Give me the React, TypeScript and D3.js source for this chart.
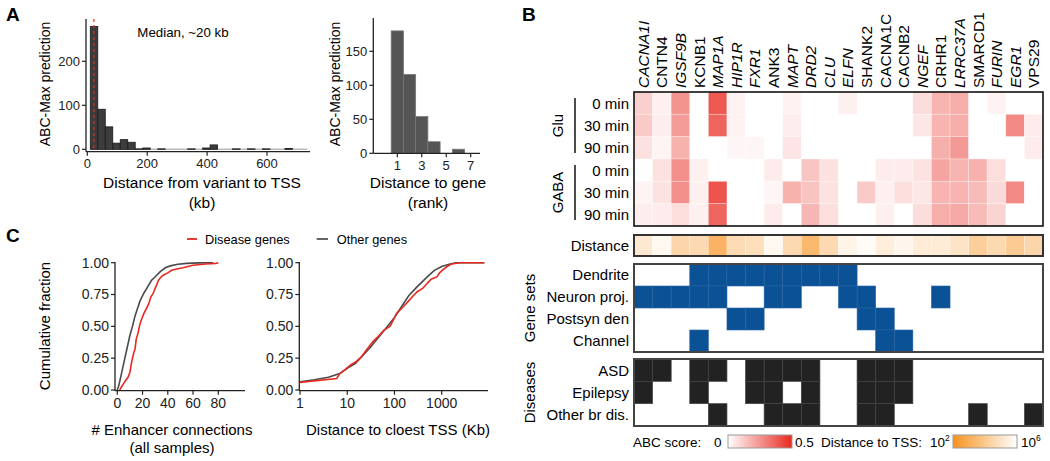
import React from "react";
import * as d3 from "d3";

const FONT = '"Liberation Sans", Arial, Helvetica, sans-serif';

// ---------- Panel A (left): distance from variant to TSS ----------
const tssBinStarts = [10, 35, 60, 85, 110, 135, 160, 185, 210, 235, 260, 285, 310, 335, 360, 385, 410, 435, 460, 485, 510, 535, 560, 585, 610, 635, 660, 685, 710];
const tssBinCounts = [279, 91, 51, 14, 22, 16, 1, 3, 0, 1, 0, 0, 0, 1, 0, 3, 10, 0, 0, 1, 0, 1, 0, 1, 0, 0, 2, 0, 0];
const tssBinWidth = 25;
const tssMedianKb = 22;
const tssXTicks = [0, 200, 400, 600];
const tssYTicks = [0, 100, 200];

// ---------- Panel A (right): distance to gene rank ----------
const rankValues = [1, 2, 3, 4, 5, 6];
const rankCounts = [180, 116, 54, 17, 0, 6];
const rankXTicks = [1, 3, 5, 7];
const rankYTicks = [0, 50, 100, 150];

// ---------- Panel C ----------
const enhDisease: [number, number][] = [[2, 0], [3, 0.02], [5, 0.05], [7, 0.08], [8.5, 0.1], [10, 0.14], [11, 0.2], [12, 0.25], [13, 0.29], [14, 0.32], [15, 0.4], [16.5, 0.45], [17.5, 0.5], [19, 0.55], [21, 0.6], [23, 0.64], [25, 0.68], [26.5, 0.73], [28.5, 0.76], [30, 0.8], [31, 0.82], [32.5, 0.86], [34, 0.88], [36, 0.9], [40, 0.92], [43, 0.94], [47, 0.95], [52, 0.96], [56, 0.97], [60, 0.98], [70, 0.99], [78, 0.995], [80, 1.0]];
const enhOther: [number, number][] = [[0, 0], [1, 0.03], [2, 0.07], [4, 0.16], [6, 0.25], [8, 0.34], [10, 0.43], [12, 0.5], [14, 0.58], [16, 0.64], [18, 0.7], [21, 0.76], [24, 0.81], [27, 0.86], [30, 0.89], [34, 0.93], [38, 0.96], [42, 0.975], [48, 0.988], [55, 0.995], [65, 0.999], [76, 1.0]];
const tssDisease: [number, number][] = [[1, 0.06], [6, 0.09], [7, 0.13], [9, 0.16], [12, 0.2], [15, 0.22], [20, 0.26], [25, 0.31], [35, 0.38], [45, 0.42], [60, 0.47], [80, 0.5], [95, 0.55], [110, 0.6], [150, 0.65], [200, 0.7], [250, 0.74], [300, 0.77], [400, 0.8], [500, 0.84], [600, 0.87], [800, 0.89], [900, 0.92], [1100, 0.95], [1300, 0.97], [1600, 0.99], [2500, 1.0], [8000, 1.0]];
const tssOther: [number, number][] = [[1, 0.065], [2, 0.08], [4, 0.1], [7, 0.13], [10, 0.17], [15, 0.21], [20, 0.26], [30, 0.33], [50, 0.43], [75, 0.51], [100, 0.57], [150, 0.67], [200, 0.74], [300, 0.81], [500, 0.89], [700, 0.94], [1000, 0.97], [1500, 0.99], [2000, 1.0], [8000, 1.0]];
const cdfYTicks = [0, 0.25, 0.5, 0.75, 1];
const enhXTicks = [0, 20, 40, 60, 80];
const tssLogTicks = [1, 10, 100, 1000];

// ---------- Panel B ----------
const genes = ["CACNA1I", "CNTN4", "IGSF9B", "KCNB1", "MAP1A", "HIP1R", "FXR1", "ANK3", "MAPT", "DRD2", "CLU", "ELFN", "SHANK2", "CACNA1C", "CACNB2", "NGEF", "CRHR1", "LRRC37A", "SMARCD1", "FURIN", "EGR1", "VPS29"];
const italicGenes = ["CACNA1I", "IGSF9B", "MAP1A", "HIP1R", "FXR1", "MAPT", "DRD2", "CLU", "ELFN", "NGEF", "LRRC37A", "FURIN", "EGR1"];
const timePoints = ["0 min", "30 min", "90 min"];
const treatments = ["Glu", "GABA"];
const abcGlu0 = [0.11, 0.035, 0.25, 0, 0.39, 0.03, 0, 0, 0.03, 0, 0, 0.035, 0, 0, 0, 0.08, 0.175, 0.19, 0, 0.03, 0, 0];
const abcGlu30 = [0.125, 0.04, 0.23, 0, 0.36, 0.03, 0, 0, 0.04, 0, 0, 0, 0, 0, 0, 0.055, 0.175, 0.19, 0, 0, 0.275, 0.045];
const abcGlu90 = [0.07, 0.025, 0.18, 0, 0, 0.02, 0.02, 0, 0.06, 0, 0, 0, 0, 0, 0, 0, 0.185, 0.235, 0, 0, 0, 0.045];
const abcGaba0 = [0, 0.07, 0.26, 0.035, 0, 0, 0, 0.045, 0, 0.135, 0.07, 0, 0, 0.045, 0.045, 0.065, 0.21, 0.175, 0.18, 0.075, 0, 0];
const abcGaba30 = [0.025, 0.065, 0.26, 0.035, 0.4, 0, 0, 0.02, 0.18, 0.14, 0.065, 0, 0.125, 0.035, 0.075, 0.055, 0.175, 0.175, 0.16, 0.085, 0.275, 0];
const abcGaba90 = [0.04, 0.045, 0.075, 0.035, 0.36, 0, 0, 0.045, 0, 0.17, 0.075, 0, 0, 0.035, 0, 0.08, 0.19, 0.2, 0.16, 0.1, 0, 0];
const tssLog10 = [5.2, 5.76, 4.48, 4.6, 3.2, 4.68, 4.8, 5.76, 4.6, 3.4, 4.6, 5.6, 5.88, 5.36, 5.68, 5.28, 5.28, 5.0, 4.2, 4.6, 4.08, 4.48];
const geneSetNames = ["Dendrite", "Neuron proj.", "Postsyn den", "Channel"];
const dendriteGenes = ["KCNB1", "MAP1A", "HIP1R", "FXR1", "ANK3", "MAPT", "DRD2", "CLU", "ELFN"];
const neuronProjGenes = ["CACNA1I", "CNTN4", "IGSF9B", "KCNB1", "MAP1A", "ANK3", "MAPT", "ELFN", "SHANK2", "CRHR1"];
const postsynGenes = ["HIP1R", "FXR1", "SHANK2", "CACNA1C"];
const channelGenes = ["KCNB1", "CACNA1C", "CACNB2"];
const diseaseNames = ["ASD", "Epilepsy", "Other br dis."];
const asdGenes = ["CACNA1I", "CNTN4", "KCNB1", "MAP1A", "FXR1", "ANK3", "MAPT", "DRD2", "SHANK2", "CACNA1C", "CACNB2"];
const epilepsyGenes = ["CACNA1I", "KCNB1", "FXR1", "ANK3", "DRD2", "SHANK2", "CACNA1C", "CACNB2"];
const otherBrGenes = ["MAP1A", "ANK3", "MAPT", "DRD2", "SHANK2", "CACNA1C", "SMARCD1", "VPS29"];

const RED = "#e8291f";
const ORANGE = "#f7931e";
const BLUE = "#0b5196";
const BLACK_CELL = "#222222";

function Axis({ orient, scale, ticks, x, y, fmt, fontSize, len, extent }: any) {
  const items = ticks.map((t: number) => {
    const p = scale(t);
    if (orient === "left") {
      return (
        <g key={t}>
          <line x1={x - 4} x2={x} y1={p} y2={p} stroke="#222" strokeWidth={1.2} />
          <text x={x - 6} y={p} dy="0.35em" textAnchor="end" fontSize={fontSize} fill="#222">{fmt(t)}</text>
        </g>
      );
    }
    return (
      <g key={t}>
        <line x1={p} x2={p} y1={y} y2={y + 4} stroke="#222" strokeWidth={1.2} />
        <text x={p} y={y + 6} dy="0.8em" textAnchor="middle" fontSize={fontSize} fill="#222">{fmt(t)}</text>
      </g>
    );
  });
  const line = orient === "left"
    ? <line x1={x} x2={x} y1={extent[0]} y2={extent[1]} stroke="#222" strokeWidth={1.3} />
    : <line x1={extent[0]} x2={extent[1]} y1={y} y2={y} stroke="#222" strokeWidth={1.3} />;
  return <g>{line}{items}</g>;
}

export default function App() {
  // Panel A left
  const xA = d3.scaleLinear().domain([0, 600]).range([87.3, 267]);
  const yA = d3.scaleLinear().domain([0, 200]).range([149.3, 61.3]);
  // Panel A right
  const xR = d3.scaleLinear().domain([1, 7]).range([397.3, 470.7]);
  const yR = d3.scaleLinear().domain([0, 150]).range([153.3, 51.3]);
  // Panel C
  const yC = d3.scaleLinear().domain([0, 1]).range([390, 262.7]);
  const xC1 = d3.scaleLinear().domain([0, 80]).range([117.3, 218.3]);
  const xC2 = d3.scaleLog().domain([1, 1000]).range([300, 441.7]);
  const lineC1 = d3.line<[number, number]>().x((d) => xC1(d[0])).y((d) => yC(d[1]));
  const lineC2 = d3.line<[number, number]>().x((d) => xC2(d[0])).y((d) => yC(d[1]));
  const fmt2 = (v: number) => v.toFixed(2);

  // Panel B
  const xB = d3.scaleBand<string>().domain(genes).range([634, 1043]);
  const cw = xB.bandwidth();
  const heatTop = 92, heatBot = 226;
  const abcRows = [abcGlu0, abcGlu30, abcGlu90, abcGaba0, abcGaba30, abcGaba90];
  const yHeat = d3.scaleBand<number>().domain(d3.range(6)).range([heatTop, heatBot]);
  const abcColor = d3.scaleLinear<string>().domain([0, 0.5]).range(["#ffffff", RED]).interpolate(d3.interpolateRgb).clamp(true);
  const distColor = d3.scaleLinear<string>().domain([2, 6]).range([ORANGE, "#ffffff"]).interpolate(d3.interpolateRgb).clamp(true);
  const distTop = 235, distBot = 256;
  const gsTop = 264, gsBot = 352;
  const yGS = d3.scaleBand<number>().domain(d3.range(4)).range([gsTop, gsBot]);
  const geneSets = [dendriteGenes, neuronProjGenes, postsynGenes, channelGenes];
  const disTop = 359, disBot = 426;
  const yDis = d3.scaleBand<number>().domain(d3.range(3)).range([disTop, disBot]);
  const diseaseSets = [asdGenes, epilepsyGenes, otherBrGenes];
  const labelX = 629;

  return (
    <svg width={1050} height={461} style={{ position: "absolute", left: 0, top: 0, background: "#fff" }} fontFamily={FONT}>
      <defs>
        <linearGradient id="abcGrad" x1="0" x2="1" y1="0" y2="0">
          <stop offset="0%" stopColor={abcColor(0)} />
          <stop offset="100%" stopColor={abcColor(0.5)} />
        </linearGradient>
        <linearGradient id="distGrad" x1="0" x2="1" y1="0" y2="0">
          <stop offset="0%" stopColor={distColor(2)} />
          <stop offset="100%" stopColor={distColor(6)} />
        </linearGradient>
      </defs>
      <rect width={1050} height={461} fill="#fff" />

      {/* Panel letters */}
      <text x={6} y={21} fontSize={19} fontWeight="bold">A</text>
      <text x={522} y={21} fontSize={19} fontWeight="bold">B</text>
      <text x={6} y={242} fontSize={19} fontWeight="bold">C</text>

      {/* ===== Panel A left ===== */}
      <line x1={xA(tssBinStarts[0])} x2={xA(735)} y1={yA(0)} y2={yA(0)} stroke="#bbb" strokeWidth={1.5} />
      {tssBinStarts.map((s, i) => tssBinCounts[i] > 0 ? (
        <rect key={i} x={xA(s)} y={yA(tssBinCounts[i])} width={xA(s + tssBinWidth) - xA(s)} height={yA(0) - yA(tssBinCounts[i])}
          fill="#3c3c3c" stroke="#1a1a1a" strokeWidth={0.8} />
      ) : null)}
      <line x1={xA(tssMedianKb)} x2={xA(tssMedianKb)} y1={19} y2={150} stroke="#e8291f" strokeWidth={1.2} strokeDasharray="3,3" />
      <Axis orient="left" scale={yA} ticks={tssYTicks} x={86} fmt={(v: number) => String(v)} fontSize={13} extent={[19, 151.7]} />
      <Axis orient="bottom" scale={xA} ticks={tssXTicks} y={151.7} fmt={(v: number) => String(v)} fontSize={13} extent={[86, 310]} />
      <text x={183} y={37} fontSize={13.3} textAnchor="middle">Median, ~20 kb</text>
      <text transform="translate(50,84) rotate(-90)" fontSize={14} textAnchor="middle">ABC-Max prediction</text>
      <text x={202} y={188} fontSize={15.5} textAnchor="middle">Distance from variant to TSS</text>
      <text x={202} y={208} fontSize={15.5} textAnchor="middle">(kb)</text>

      {/* ===== Panel A right ===== */}
      {rankValues.map((r, i) => rankCounts[i] > 0 ? (
        <rect key={r} x={xR(r - 0.5)} y={yR(rankCounts[i])} width={xR(r + 0.5) - xR(r - 0.5)} height={yR(0) - yR(rankCounts[i])}
          fill="#555" stroke="#777" strokeWidth={0.8} />
      ) : null)}
      <Axis orient="left" scale={yR} ticks={rankYTicks} x={373.3} fmt={(v: number) => String(v)} fontSize={13} extent={[18, 153.3]} />
      <Axis orient="bottom" scale={xR} ticks={rankXTicks} y={153.3} fmt={(v: number) => String(v)} fontSize={13} extent={[373.3, 480]} />
      <text transform="translate(340,84) rotate(-90)" fontSize={14} textAnchor="middle">ABC-Max prediction</text>
      <text x={428} y={188} fontSize={15.5} textAnchor="middle">Distance to gene</text>
      <text x={428} y={208} fontSize={15.5} textAnchor="middle">(rank)</text>

      {/* ===== Panel C ===== */}
      <line x1={187} x2={197} y1={239} y2={239} stroke={RED} strokeWidth={1.8} />
      <text x={205} y={243.5} fontSize={12.8}>Disease genes</text>
      <line x1={316.7} x2={328} y1={239} y2={239} stroke="#555" strokeWidth={1.8} />
      <text x={336.7} y={243.5} fontSize={12.8}>Other genes</text>

      <Axis orient="left" scale={yC} ticks={cdfYTicks} x={115} fmt={fmt2} fontSize={14} extent={[262, 390.7]} />
      <Axis orient="bottom" scale={xC1} ticks={enhXTicks} y={390.7} fmt={(v: number) => String(v)} fontSize={14} extent={[115, 245]} />
      <path d={lineC1(enhOther) || ""} fill="none" stroke="#4a4a4a" strokeWidth={1.6} />
      <path d={lineC1(enhDisease) || ""} fill="none" stroke={RED} strokeWidth={1.6} />
      <text transform="translate(50,326) rotate(-90)" fontSize={15} textAnchor="middle">Cumulative fraction</text>
      <text x={172} y={435} fontSize={15} textAnchor="middle"># Enhancer connections</text>
      <text x={172} y={453} fontSize={15} textAnchor="middle">(all samples)</text>

      <Axis orient="left" scale={yC} ticks={cdfYTicks} x={299.3} fmt={fmt2} fontSize={14} extent={[262, 390.7]} />
      <Axis orient="bottom" scale={xC2} ticks={tssLogTicks} y={390.7} fmt={(v: number) => String(v)} fontSize={14} extent={[299.3, 488]} />
      <path d={lineC2(tssOther) || ""} fill="none" stroke="#4a4a4a" strokeWidth={1.6} />
      <path d={lineC2(tssDisease) || ""} fill="none" stroke={RED} strokeWidth={1.6} />
      <text x={398} y={435} fontSize={15} textAnchor="middle">Distance to cloest TSS (Kb)</text>

      {/* ===== Panel B ===== */}
      {genes.map((g) => (
        <text key={g} transform={`translate(${(xB(g) as number) + cw / 2},88) rotate(-90)`} dy="0.36em" fontSize={15.5}
          fontStyle={italicGenes.includes(g) ? "italic" : "normal"}>{g}</text>
      ))}
      {abcRows.map((row, ri) => (
        <g key={ri}>
          {row.map((v, ci) => (
            <rect key={ci} x={xB(genes[ci])} y={yHeat(ri)} width={cw} height={yHeat.bandwidth()} fill={abcColor(v)}
              stroke={v > 0 ? "#fff" : "none"} strokeOpacity={0.35} strokeWidth={0.8} />
          ))}
          <text x={labelX} y={(yHeat(ri) as number) + yHeat.bandwidth() / 2} dy="0.36em" textAnchor="end" fontSize={15}>{timePoints[ri % 3]}</text>
        </g>
      ))}
      <rect x={634} y={heatTop} width={409} height={heatBot - heatTop} fill="none" stroke="#111" strokeWidth={1.6} />
      {treatments.map((t, i) => {
        const y0 = yHeat(i * 3) as number;
        const y1 = (yHeat(i * 3 + 2) as number) + yHeat.bandwidth();
        return (
          <g key={t}>
            <line x1={575} x2={575} y1={y0 + 6} y2={y1 - 6} stroke="#111" strokeWidth={1.5} />
            <text transform={`translate(558,${(y0 + y1) / 2}) rotate(-90)`} dy="0.36em" textAnchor="middle" fontSize={15}>{t}</text>
          </g>
        );
      })}

      {/* Distance row */}
      {tssLog10.map((v, ci) => (
        <rect key={ci} x={xB(genes[ci])} y={distTop} width={cw} height={distBot - distTop} fill={distColor(v)} stroke="#fff" strokeOpacity={0.3} strokeWidth={0.8} />
      ))}
      <rect x={634} y={distTop} width={409} height={distBot - distTop} fill="none" stroke="#333" strokeWidth={2} />
      <text x={labelX} y={(distTop + distBot) / 2} dy="0.36em" textAnchor="end" fontSize={15}>Distance</text>

      {/* Gene sets */}
      {geneSets.map((set, ri) => (
        <g key={ri}>
          {genes.map((g) => set.includes(g) ? (
            <rect key={g} x={xB(g)} y={yGS(ri)} width={cw} height={yGS.bandwidth()} fill={BLUE} stroke="#2a64a3" strokeWidth={0.6} />
          ) : null)}
          <text x={labelX} y={(yGS(ri) as number) + yGS.bandwidth() / 2} dy="0.36em" textAnchor="end" fontSize={15}>{geneSetNames[ri]}</text>
        </g>
      ))}
      <rect x={634} y={gsTop} width={409} height={gsBot - gsTop} fill="none" stroke="#444" strokeWidth={2} />
      <text transform={`translate(530,${(gsTop + gsBot) / 2}) rotate(-90)`} dy="0.36em" textAnchor="middle" fontSize={15}>Gene sets</text>

      {/* Diseases */}
      {diseaseSets.map((set, ri) => (
        <g key={ri}>
          {genes.map((g) => set.includes(g) ? (
            <rect key={g} x={xB(g)} y={yDis(ri)} width={cw} height={yDis.bandwidth()} fill={BLACK_CELL} stroke="#444" strokeWidth={0.7} />
          ) : null)}
          <text x={labelX} y={(yDis(ri) as number) + yDis.bandwidth() / 2} dy="0.36em" textAnchor="end" fontSize={15}>{diseaseNames[ri]}</text>
        </g>
      ))}
      <rect x={634} y={disTop} width={409} height={disBot - disTop} fill="none" stroke="#444" strokeWidth={2} />
      <text transform={`translate(530,${(disTop + disBot) / 2}) rotate(-90)`} dy="0.36em" textAnchor="middle" fontSize={15}>Diseases</text>

      {/* Legends */}
      <text x={633} y={447} fontSize={13.5}>ABC score:</text>
      <text x={714} y={447} fontSize={13.5}>0</text>
      <rect x={728} y={435} width={64} height={13} fill="url(#abcGrad)" stroke="#999" strokeWidth={1} />
      <text x={795} y={447} fontSize={13.5}>0.5</text>
      <text x={821} y={447} fontSize={13.5}>Distance to TSS:</text>
      <text x={930} y={447} fontSize={13.5}>10<tspan dy={-6} fontSize={8.5}>2</tspan></text>
      <rect x={953} y={435} width={64} height={13} fill="url(#distGrad)" stroke="#999" strokeWidth={1} />
      <text x={1021} y={447} fontSize={13.5}>10<tspan dy={-6} fontSize={8.5}>6</tspan></text>
    </svg>
  );
}
